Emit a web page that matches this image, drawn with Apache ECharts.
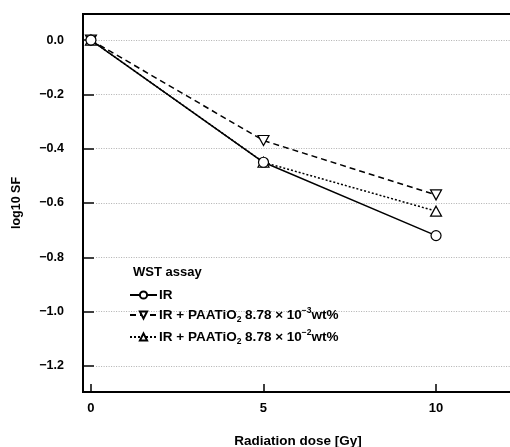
<!DOCTYPE html>
<html>
<head>
<meta charset="utf-8">
<script src="https://cdn.jsdelivr.net/npm/echarts@6/dist/echarts.min.js"></script>
<style>html,body{margin:0;padding:0;background:#fff;}#c{width:510px;height:447px;}</style>
</head>
<body>
<div id="c"></div>
<script>
const doses = [0, 5, 10];
const irValues = [0, -0.45, -0.72];
const lowDoseValues = [0, -0.37, -0.57];
const highDoseValues = [0, -0.45, -0.63];
const xTicks = [0, 5, 10];
const yTicks = [0, -0.2, -0.4, -0.6, -0.8, -1.0, -1.2];
const seriesNames = ['IR', 'IR + PAATiO2 8.78×10-3wt%', 'IR + PAATiO2 8.78×10-2wt%'];
const legendTitle = 'WST assay';

const FONT = '"Liberation Sans", Arial, sans-serif';
const X_MIN = -0.23, X_MAX = 12.23;
const pair = (vals) => doses.map((d, i) => [d, vals[i]]);
const triDown = 'path://M0,0 L10,0 L5,9 Z';

const chart = echarts.init(document.getElementById('c'));
const symStyle = { color: '#fff', borderColor: '#000', borderWidth: 1.2 };

const richLegend = {
  n: { fontFamily: FONT, fontWeight: 'bold', fontSize: 13.5, color: '#000', lineHeight: 18, verticalAlign: 'middle' },
  sub: { fontFamily: FONT, fontWeight: 'bold', fontSize: 8.5, color: '#000', lineHeight: 18, verticalAlign: 'bottom' },
  sup: { fontFamily: FONT, fontWeight: 'bold', fontSize: 8.5, color: '#000', lineHeight: 18, verticalAlign: 'top' }
};

chart.setOption({
  animation: false,
  backgroundColor: '#fff',
  grid: { left: 83, top: 14, right: -3, bottom: 55, show: true, borderColor: '#000', borderWidth: 2, backgroundColor: 'transparent', outerBoundsMode: 'none', containLabel: false },
  title: {
    text: legendTitle, left: 128, top: 261,
    textStyle: { fontFamily: FONT, fontWeight: 'bold', fontSize: 13, color: '#000' }
  },
  legend: {
    orient: 'vertical', left: 124, top: 283, itemGap: 4,
    itemWidth: 27, itemHeight: 9,
    data: seriesNames,
    formatter: (name) => {
      if (name === 'IR') return '{n|IR}';
      const exp = name.indexOf('-3') >= 0 ? '−3' : '−2';
      return '{n|IR + PAATiO}{sub|2}{n| 8.78 × 10}{sup|' + exp + '}{n|wt%}';
    },
    textStyle: { rich: richLegend, padding: [0, 0, 0, -3], height: 18 }
  },
  xAxis: {
    type: 'value', min: X_MIN, max: X_MAX,
    name: 'Radiation dose [Gy]', nameLocation: 'middle', nameGap: 42,
    nameTextStyle: { fontFamily: FONT, fontWeight: 'bold', fontSize: 13.5, color: '#000' },
    axisLine: { show: true, onZero: false, lineStyle: { color: '#000', width: 2 } },
    axisTick: { show: true, inside: true, length: 8, customValues: xTicks, lineStyle: { color: '#000', width: 1.5 } },
    axisLabel: { customValues: xTicks, margin: 10, fontFamily: FONT, fontWeight: 'bold', fontSize: 13, color: '#000' },
    splitLine: { show: false }
  },
  yAxis: {
    type: 'value', min: -1.296, max: 0.096,
    name: 'log10 SF', nameLocation: 'middle', nameGap: 60, nameRotate: 90,
    nameTextStyle: { fontFamily: FONT, fontWeight: 'bold', fontSize: 12.5, color: '#000' },
    axisLine: { show: true, onZero: false, lineStyle: { color: '#000', width: 2 } },
    axisTick: { show: true, inside: true, length: 11, customValues: yTicks, lineStyle: { color: '#000', width: 1.5 } },
    axisLabel: {
      customValues: yTicks, margin: 19, fontFamily: FONT, fontWeight: 'bold', fontSize: 12.5, color: '#000',
      formatter: (v) => v.toFixed(1).replace('-', '−')
    },
    splitLine: { show: false }
  },
  series: [
    {
      name: seriesNames[0], type: 'line', data: pair(irValues), z: 5,
      symbol: 'circle', symbolSize: 10, itemStyle: symStyle,
      lineStyle: { color: '#000', width: 1.5, type: 'solid' },
      markLine: {
        silent: true, symbol: 'none', label: { show: false },
        lineStyle: { color: '#b0b0b0', width: 1, type: [1, 1.5] },
        data: yTicks.map(v => [{ coord: [0.15, v] }, { coord: [X_MAX, v] }]),
        z: 1
      }
    },
    {
      name: seriesNames[1], type: 'line', data: pair(lowDoseValues), z: 4,
      symbol: triDown, symbolSize: [11, 10], itemStyle: symStyle,
      lineStyle: { color: '#000', width: 1.5, type: [6, 4] }
    },
    {
      name: seriesNames[2], type: 'line', data: pair(highDoseValues), z: 3,
      symbol: 'triangle', symbolSize: [11, 10], itemStyle: symStyle,
      lineStyle: { color: '#000', width: 1.5, type: [2, 2] }
    }
  ]
});
</script>
</body>
</html>
